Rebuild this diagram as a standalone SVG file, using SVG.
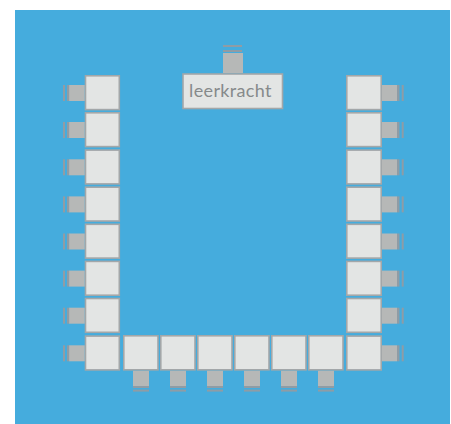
<svg xmlns="http://www.w3.org/2000/svg" xmlns:xlink="http://www.w3.org/1999/xlink" width="451" height="424" viewBox="0 0 451 424">
<style>
.t{fill:#e3e5e4;stroke:#a3a7a9;stroke-width:1.6}
.c{fill:#b6b8b7}
.b{fill:#8f9ca5}
text{font-family:"Lato","Open Sans",sans-serif;font-size:18px;fill:#868a8b;letter-spacing:.35px}
</style>
<defs>
<g id="L"><rect class="t" x="85.500" y="0.800" width="33.800" height="33.800"/><rect class="c" x="69" y="10" width="15.700" height="16"/><rect class="b" x="63" y="10" width="2" height="16"/><rect class="b" x="67" y="10" width="2.200" height="16"/></g>
<g id="R"><rect class="t" x="346.800" y="0.800" width="34.400" height="33.800"/><rect class="c" x="382" y="10" width="15" height="16"/><rect class="b" x="397" y="10" width="2.500" height="16"/><rect class="b" x="401.700" y="10" width="2" height="16"/></g>
<g id="B"><rect class="t" x="0.800" y="335.800" width="34.200" height="34"/><rect class="c" x="10" y="370.800" width="16" height="15.200"/><rect class="b" x="10" y="386" width="16" height="2"/><rect class="b" x="10" y="389.600" width="16" height="2"/></g>
</defs>
<rect x="15" y="10" width="435" height="414" fill="#45acdd"/>
<g id="teacher">
<rect class="c" x="223" y="53" width="20" height="20"/>
<rect class="b" x="223" y="45" width="19" height="2"/>
<rect class="b" x="223" y="50" width="19" height="2"/>
<rect class="t" x="183" y="74" width="99.500" height="34.500"/>
<text x="230.500" y="97" text-anchor="middle">leerkracht</text>
</g>
<g id="left-1"><use xlink:href="#L" y="75"/></g>
<g id="left-2"><use xlink:href="#L" y="112"/></g>
<g id="left-3"><use xlink:href="#L" y="149.300"/></g>
<g id="left-4"><use xlink:href="#L" y="186.400"/></g>
<g id="left-5"><use xlink:href="#L" y="223.500"/></g>
<g id="left-6"><use xlink:href="#L" y="260.600"/></g>
<g id="left-7"><use xlink:href="#L" y="297.700"/></g>
<g id="left-8"><use xlink:href="#L" y="335.300"/></g>
<g id="right-1"><use xlink:href="#R" y="75"/></g>
<g id="right-2"><use xlink:href="#R" y="112"/></g>
<g id="right-3"><use xlink:href="#R" y="149.300"/></g>
<g id="right-4"><use xlink:href="#R" y="186.400"/></g>
<g id="right-5"><use xlink:href="#R" y="223.500"/></g>
<g id="right-6"><use xlink:href="#R" y="260.600"/></g>
<g id="right-7"><use xlink:href="#R" y="297.700"/></g>
<g id="right-8"><use xlink:href="#R" y="335.300"/></g>
<g id="bottom-1"><use xlink:href="#B" x="123"/></g>
<g id="bottom-2"><use xlink:href="#B" x="160"/></g>
<g id="bottom-3"><use xlink:href="#B" x="197"/></g>
<g id="bottom-4"><use xlink:href="#B" x="234"/></g>
<g id="bottom-5"><use xlink:href="#B" x="271"/></g>
<g id="bottom-6"><use xlink:href="#B" x="308"/></g>
<g id="connectors"></g>
</svg>
